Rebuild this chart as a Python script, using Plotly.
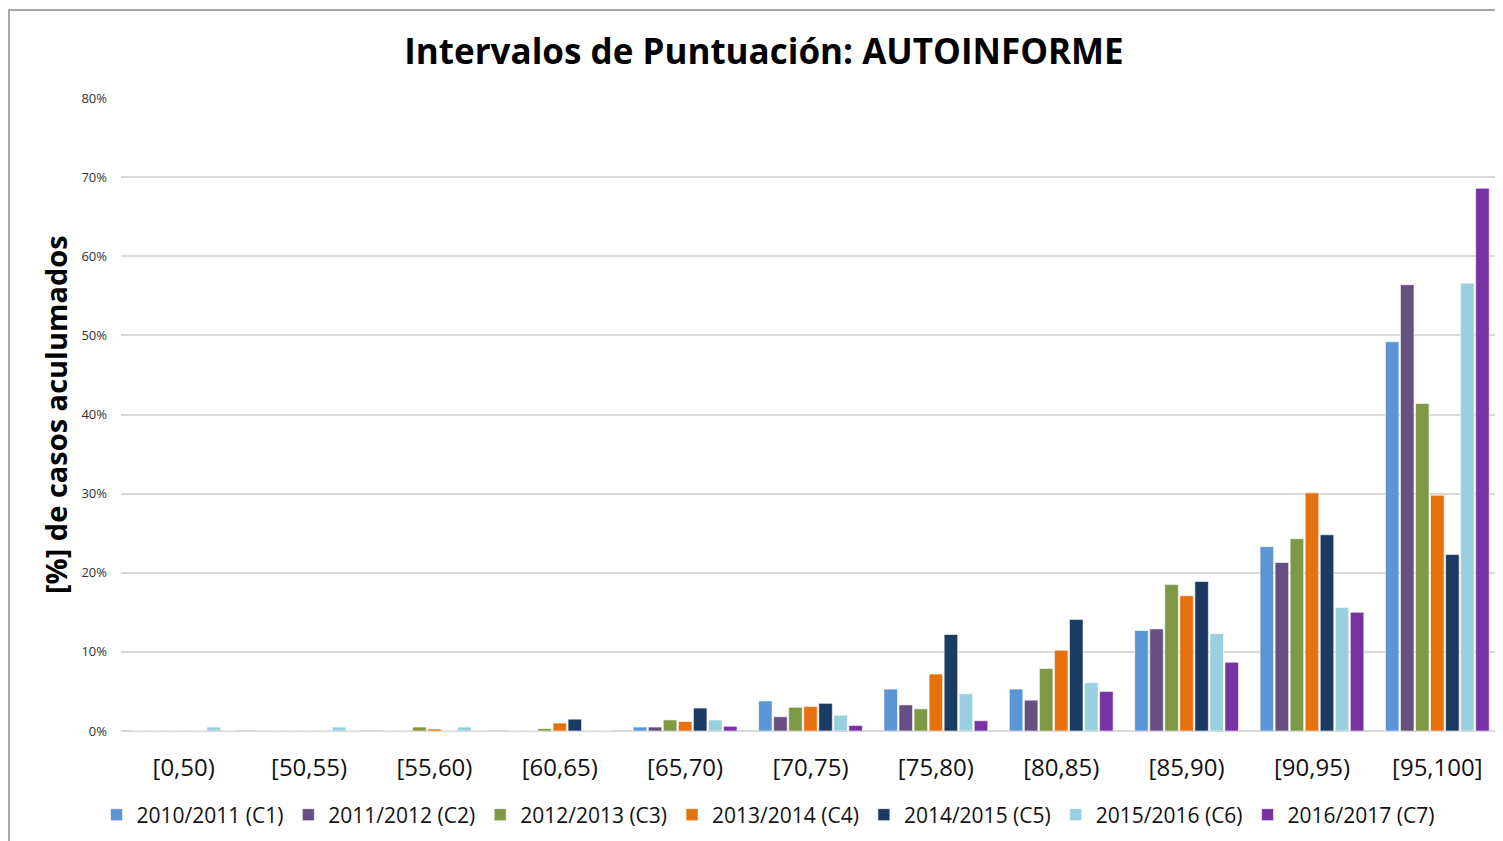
import plotly.graph_objects as go

intervals = ["[0,50)", "[50,55)", "[55,60)", "[60,65)", "[65,70)", "[70,75)",
             "[75,80)", "[80,85)", "[85,90)", "[90,95)", "[95,100]"]

c1 = [0, 0, 0, 0, 0.5, 3.8, 5.3, 5.3, 12.7, 23.3, 49.2]
c2 = [0, 0, 0, 0, 0.5, 1.8, 3.3, 3.9, 12.9, 21.3, 56.4]
c3 = [0, 0, 0.5, 0.3, 1.4, 3.0, 2.8, 7.9, 18.5, 24.3, 41.4]
c4 = [0, 0, 0.25, 1.0, 1.2, 3.1, 7.2, 10.2, 17.1, 30.1, 29.8]
c5 = [0, 0, 0, 1.5, 2.9, 3.5, 12.2, 14.1, 18.9, 24.8, 22.3]
c6 = [0.5, 0.5, 0.5, 0, 1.4, 2.0, 4.7, 6.1, 12.3, 15.6, 56.6]
c7 = [0, 0, 0, 0, 0.6, 0.7, 1.3, 5.0, 8.7, 15.0, 68.6]

series = [
    ("2010/2011 (C1)", c1, "#5B95D6"),
    ("2011/2012 (C2)", c2, "#664F81"),
    ("2012/2013 (C3)", c3, "#7E9843"),
    ("2013/2014 (C4)", c4, "#E5720D"),
    ("2014/2015 (C5)", c5, "#1C3B63"),
    ("2015/2016 (C6)", c6, "#99CFDF"),
    ("2016/2017 (C7)", c7, "#7733A3"),
]

# page has an 8px body margin, so figure coords = reference coords - 8
W, H = 1495, 833
L, R, T, B = 113, 3, 90, 110
PW, PH = W - L - R, H - T - B

fig = go.Figure()
for name, vals, color in series:
    fig.add_trace(go.Bar(
        x=intervals, y=vals, name=name,
        marker=dict(color=color, line=dict(color="rgba(255,255,255,0.6)", width=1)),
    ))

fig.update_layout(
    width=W, height=H,
    margin=dict(l=L, r=R, t=T, b=B, autoexpand=False),
    paper_bgcolor="white", plot_bgcolor="white",
    font=dict(family="Open Sans, sans-serif", color="#000000"),
    barmode="group", bargap=0.16, bargroupgap=0.1,
    title=dict(text="<b>Intervalos de Puntuación: AUTOINFORME</b>",
               x=756 / W, xanchor="center", y=1 - 44 / H, yanchor="middle",
               font=dict(size=35, color="#000000")),
    legend=dict(orientation="h", x=(760 - L) / PW, xanchor="center",
                y=-(807 - (H - B)) / PH, yanchor="middle",
                font=dict(size=21, color="#111111"), itemwidth=30,
                bgcolor="rgba(0,0,0,0)", traceorder="normal"),
    showlegend=True,
)

fig.update_xaxes(
    showgrid=False, showline=False, zeroline=False,
    ticks="outside", ticklen=15, tickcolor="rgba(0,0,0,0)",
    tickfont=dict(size=24, color="#111111"),
)
fig.update_yaxes(
    range=[0, 80], dtick=10, ticksuffix="%",
    showgrid=True, gridcolor="#d9d9d9", gridwidth=1.5,
    zeroline=True, zerolinecolor="#d9d9d9", zerolinewidth=2,
    tickfont=dict(size=13, color="#333333"),
    ticklabelstandoff=13,
)

fig.add_annotation(
    text="<b>[%] de casos aculumados</b>", textangle=-90,
    xref="paper", yref="paper",
    x=(47 - L) / PW, xanchor="center",
    y=(H - B - 407) / PH, yanchor="middle",
    showarrow=False, font=dict(size=29, color="#000000"),
)

# outer chart border
fig.add_shape(
    type="rect", xref="paper", yref="paper",
    x0=(1 - L) / PW, x1=(W + 5 - L) / PW,
    y0=(H - B - H - 5) / PH, y1=(H - B - 2) / PH,
    line=dict(color="#8c8c8c", width=1.5), fillcolor="rgba(0,0,0,0)",
    layer="below",
)

fig.write_html("out.html")
